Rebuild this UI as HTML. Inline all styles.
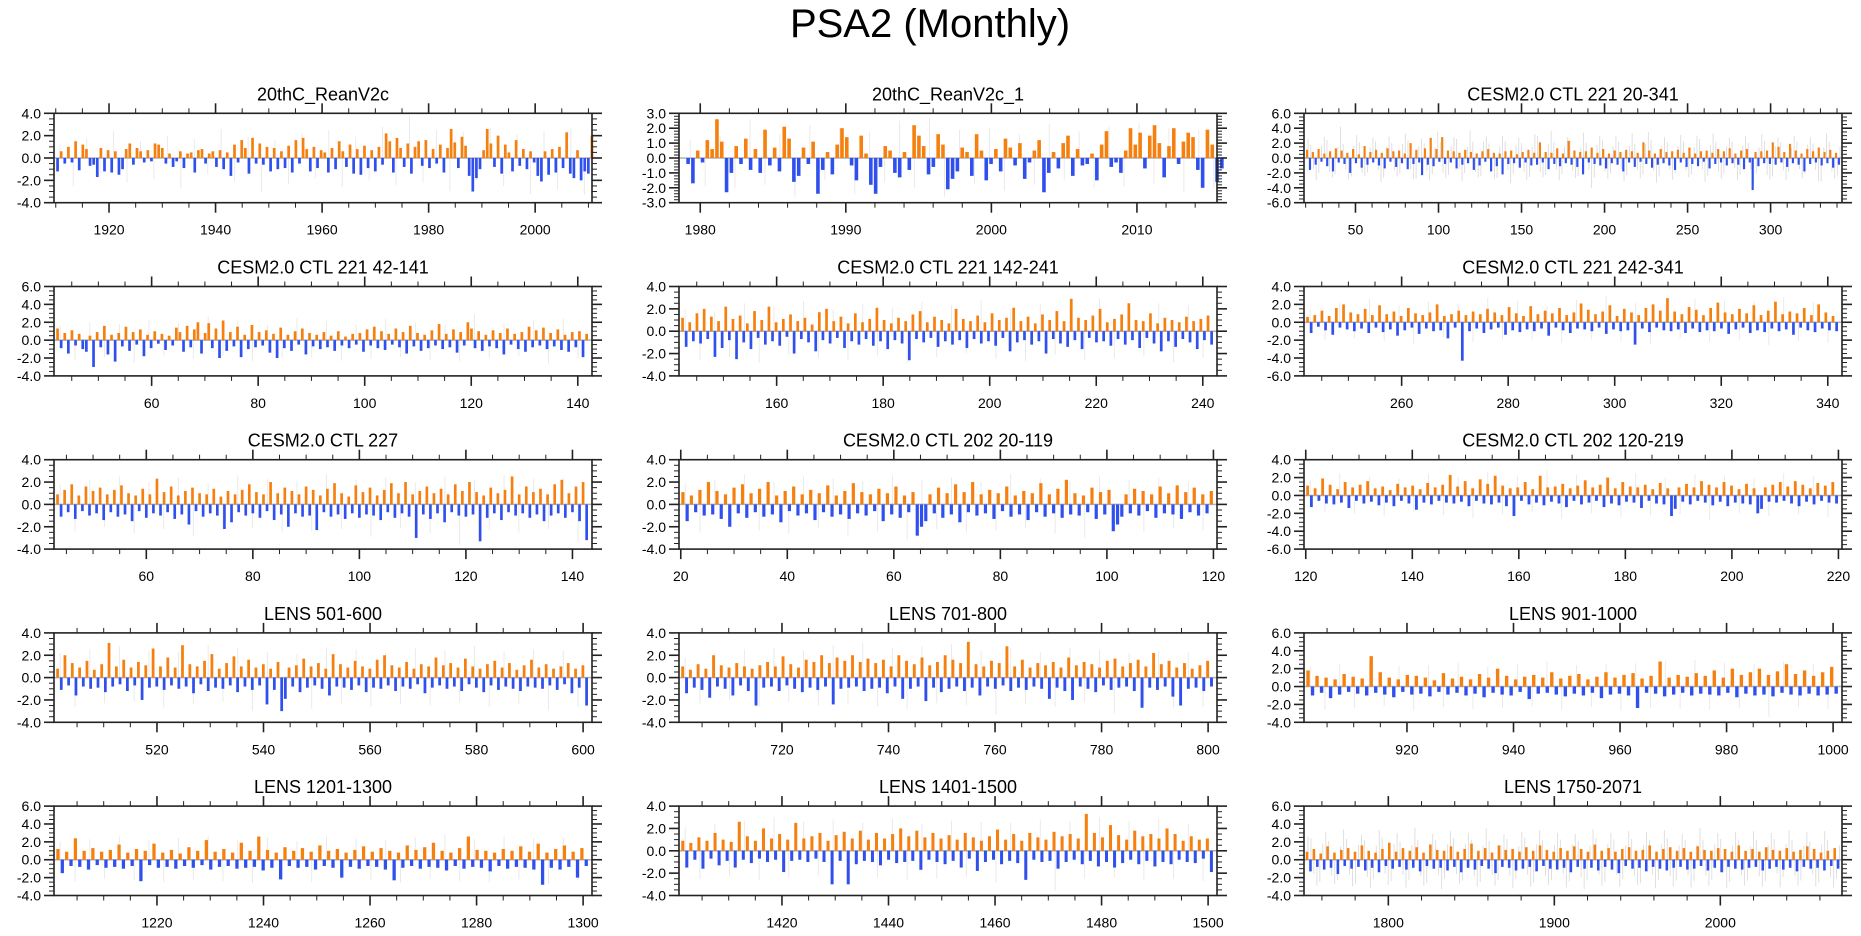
<!DOCTYPE html>
<html><head><meta charset="utf-8"><title>PSA2 (Monthly)</title>
<style>
html,body{margin:0;padding:0;background:#fff;}
svg{display:block;font-family:"Liberation Sans",Arial,sans-serif;}
</style></head>
<body>
<svg id="chart" width="1861" height="936" viewBox="0 0 1861 936" xmlns="http://www.w3.org/2000/svg">
<rect width="1861" height="936" fill="#fff"/>
<text x="930" y="37" font-size="40" text-anchor="middle" fill="#000">PSA2 (Monthly)</text>
</svg>
<script>
const titles = ["20thC_ReanV2c","20thC_ReanV2c_1","CESM2.0 CTL 221 20-341","CESM2.0 CTL 221 42-141","CESM2.0 CTL 221 142-241","CESM2.0 CTL 221 242-341","CESM2.0 CTL 227","CESM2.0 CTL 202 20-119","CESM2.0 CTL 202 120-219","LENS 501-600","LENS 701-800","LENS 901-1000","LENS 1201-1300","LENS 1401-1500","LENS 1750-2071"];
const xStart = [1910,1979,20,42,142,242,43,20,120,501,701,901,1201,1401,1750];
const xEnd   = [2010,2015,341,141,241,341,142,119,219,600,800,1000,1300,1500,2071];
const xDomMin = [1909.67,1978.54,19.0,41.67,141.67,241.67,42.67,19.67,119.67,500.67,700.67,900.67,1200.67,1400.67,1749.2];
const xDomMax = [2010.67,2015.5,343.0,142.67,242.67,342.67,143.67,120.67,220.67,601.67,801.67,1001.67,1301.67,1501.67,2073.3];
const xMajor = [[1920,1940,1960,1980,2000],[1980,1990,2000,2010],[50,100,150,200,250,300],[60,80,100,120,140],[160,180,200,220,240],[260,280,300,320,340],[60,80,100,120,140],[20,40,60,80,100,120],[120,140,160,180,200,220],[520,540,560,580,600],[720,740,760,780,800],[920,940,960,980,1000],[1220,1240,1260,1280,1300],[1420,1440,1460,1480,1500],[1800,1900,2000]];
const xMinorStep = [5,2,10,5,5,5,5,5,5,5,5,5,5,5,20];
const yMin = [-4,-3,-6,-4,-4,-6,-4,-4,-6,-4,-4,-4,-4,-4,-4];
const yMax = [4,3,6,6,4,4,4,4,4,4,4,6,6,4,6];
const yMajorStep = [2,1,2,2,2,2,2,2,2,2,2,2,2,2,2];

const s0 = [-1.2,0.6,-0.5,1.0,-0.4,1.5,-1.1,1.2,0.8,-0.7,-0.6,-1.7,0.9,-1.2,0.7,-1.3,0.6,-1.5,-1.0,0.8,1.3,-0.6,0.9,0.6,-0.4,0.7,-0.3,1.3,1.2,0.9,-0.5,0.4,-0.8,-0.3,0.6,-0.9,0.4,0.5,-1.3,0.7,0.8,-0.5,0.4,0.6,-0.8,0.7,-1.0,0.5,-1.6,1.2,-0.4,1.6,0.9,-1.4,1.8,-0.5,1.3,-0.6,1.0,-1.2,0.9,-1.0,0.6,-0.9,1.1,-1.3,1.6,-0.5,1.8,0.8,-1.2,1.0,-0.9,0.7,0.5,-1.3,0.9,-1.0,1.5,0.6,-0.8,1.2,-1.4,0.8,-1.5,1.1,-0.9,0.7,-1.2,1.0,-0.6,2.2,1.5,-1.3,1.8,0.9,-0.8,1.3,-1.4,1.0,1.5,-0.7,1.6,-0.9,0.8,-0.5,1.2,-1.3,0.9,2.6,1.4,-0.9,1.9,1.1,-1.6,-3.0,-1.8,-1.0,0.7,2.6,1.3,-0.8,2.0,-1.4,1.2,0.5,-1.2,1.6,-0.7,0.8,-1.0,0.6,-0.4,-1.6,-2.1,0.6,-1.5,0.8,-1.3,1.0,-0.9,2.3,-1.4,-1.8,0.7,-2.0,-1.2,-1.4,2.0];
const s1 = [-0.4,-1.7,0.5,-0.3,1.2,0.6,2.6,1.1,-2.3,-1.0,0.8,-0.4,1.3,-0.8,0.6,-1.0,1.9,-0.5,0.7,-0.9,2.1,1.3,-1.6,-1.2,0.7,-0.4,1.1,-2.4,-0.8,0.4,-1.1,0.9,2.0,1.4,-0.5,-1.5,1.5,0.3,-1.8,-2.4,-0.6,0.8,0.5,-1.0,-1.3,0.4,-0.8,2.2,1.5,0.8,-1.1,-0.6,1.6,0.9,-2.1,-1.4,-0.9,0.7,0.4,-1.2,1.6,0.5,-1.5,-0.4,0.6,-0.9,1.3,0.7,-0.5,1.0,-1.4,-0.3,0.5,1.2,-2.3,-1.0,0.4,-0.7,1.0,1.5,-1.2,0.6,-0.5,-0.4,0.3,-1.5,0.9,1.8,-0.6,-0.3,-1.0,0.5,2.0,0.9,1.7,-0.7,1.5,2.2,1.0,-1.3,0.8,2.0,-0.4,1.1,1.7,1.4,-0.8,-2.0,1.9,0.9,-1.6,-0.7];
const s2 = [1.1,-1.6,0.8,-0.9,1.2,-0.5,0.6,-1.1,0.9,-1.8,1.3,-0.6,1.0,-0.8,0.7,-2.0,1.2,-0.7,0.5,-1.3,1.6,-0.9,0.8,-0.6,1.1,-1.0,0.7,-1.4,1.3,-0.5,0.9,-1.2,1.0,-0.7,0.6,-1.5,2.0,-0.8,1.1,-0.6,-2.3,1.3,-0.9,2.7,-1.1,1.2,-0.5,2.8,-0.8,1.0,-0.6,0.9,-1.4,0.7,-0.9,1.1,-0.7,0.8,-1.6,0.6,-1.0,0.9,-0.5,1.2,-1.8,0.7,-1.1,0.6,-2.2,0.9,-0.8,1.0,-0.7,0.5,-1.3,0.8,-0.6,1.1,-1.0,0.7,-0.9,2.1,-0.6,0.8,-1.5,0.7,-0.8,1.3,-1.1,0.6,-0.7,2.3,-0.9,1.0,-1.2,0.8,-2.2,0.9,-0.6,1.4,-0.8,0.7,-1.0,1.2,-1.4,0.6,-0.7,1.0,-0.9,0.8,-1.8,1.1,-0.6,0.9,-1.2,0.7,-0.5,2.1,-0.8,1.0,-1.3,0.6,-0.9,1.2,-0.7,0.8,-1.0,0.9,-1.6,1.1,-0.6,0.7,-1.2,1.4,-0.8,0.6,-1.1,0.9,-0.5,1.0,-1.4,0.7,-0.8,1.2,-0.6,0.9,-1.0,1.3,-0.7,0.6,-0.9,1.0,-1.5,1.2,-0.6,-4.3,0.8,-1.1,0.9,-0.7,1.0,-0.8,2.1,-0.9,1.5,-0.6,0.8,-1.2,1.9,-0.7,1.0,-0.9,0.6,-1.8,1.2,-0.8,0.9,-0.6,1.4,-1.0,0.8,-0.7,1.1,-1.3,0.7,-0.9];
const s3 = [1.3,-0.9,0.8,-1.5,1.1,-0.6,0.7,-1.0,-1.3,0.5,-3.0,0.9,-0.8,1.6,-1.6,0.6,-2.4,0.8,-0.7,1.5,-1.2,0.9,-0.5,1.2,-1.8,0.6,-0.9,1.0,-0.4,0.7,-1.1,0.5,-0.6,1.4,0.9,-1.3,1.6,-0.8,1.2,2.0,-1.5,0.8,1.9,-0.9,1.3,-2.0,2.2,-1.2,0.9,-0.7,1.5,-1.9,0.6,-1.0,1.7,-0.8,0.9,-0.6,1.1,-1.4,0.7,-2.0,1.4,-0.9,0.6,-1.2,1.0,-0.5,1.3,-1.6,0.8,-0.7,0.6,-1.0,0.9,-0.8,0.5,-1.2,1.0,-0.6,0.4,-0.9,0.7,-0.5,0.8,-1.3,1.2,-0.6,1.5,-0.9,1.0,-1.1,0.7,-0.5,1.3,-0.8,0.9,-1.5,1.6,-0.7,0.8,-1.2,0.6,-0.9,1.1,-0.6,1.8,-1.0,0.7,-0.8,1.2,-1.4,0.9,-0.6,2.0,1.3,-0.9,1.0,-1.2,0.6,-0.7,1.1,-0.9,0.8,-1.6,1.3,-0.5,0.7,-1.0,0.9,-1.3,1.5,-0.8,1.1,-0.6,1.4,-1.0,0.8,-0.7,1.2,-1.1,0.6,-1.3,0.9,-0.8,1.0,-1.9,0.7];
const s4 = [1.2,-1.4,0.8,-0.9,1.6,-1.1,2.0,-0.7,1.3,-2.3,0.9,-1.5,2.2,-0.8,1.1,-2.5,1.4,-1.0,0.7,-1.6,1.8,-0.6,1.0,-1.2,2.2,-0.9,0.8,-1.3,1.1,-0.5,1.5,-2.0,0.9,-0.7,1.2,-1.0,0.6,-1.8,1.7,-0.8,2.0,-1.1,0.9,-0.6,1.3,-1.5,0.7,-0.9,1.6,-1.2,0.8,-0.7,1.1,-1.3,2.1,-0.9,1.0,-1.6,0.7,-0.8,1.2,-1.1,0.9,-2.6,1.5,-0.7,1.8,-1.0,0.8,-0.6,1.3,-1.4,1.0,-0.9,0.7,-1.2,2.0,-0.8,1.1,-1.5,0.9,-0.7,1.4,-1.1,0.8,-0.9,1.6,-1.3,1.0,-0.6,1.2,-1.8,2.1,-1.0,0.9,-0.8,1.3,-1.2,0.7,-0.9,1.5,-2.0,1.0,-0.7,1.8,-1.1,0.9,-1.4,2.9,-0.8,1.2,-1.6,1.0,-0.6,1.4,-1.0,2.0,-0.9,0.8,-1.3,1.1,-0.7,1.5,-1.2,2.5,-0.8,1.0,-1.5,0.9,-0.6,1.6,-1.1,0.7,-1.8,1.2,-0.9,1.0,-1.4,0.8,-0.7,1.3,-1.0,0.9,-1.6,1.1,-0.8,1.4,-1.2];
const s5 = [0.6,-1.2,0.8,-0.5,1.3,-0.9,0.7,-1.4,1.6,-0.6,2.0,-0.8,1.1,-1.0,0.9,-0.7,1.5,-1.2,0.8,-0.6,1.9,-1.1,0.9,-0.8,1.2,-1.5,0.7,-0.9,1.6,-0.6,1.0,-1.3,0.8,-0.7,1.1,-1.0,2.0,-0.9,0.7,-1.8,0.9,-0.6,1.3,-4.3,0.8,-1.0,1.2,-0.7,0.9,-1.2,1.5,-0.8,1.1,-0.6,0.8,-1.4,1.7,-0.9,1.0,-1.1,0.7,-0.8,1.8,-1.0,0.9,-0.7,1.3,-1.5,1.0,-0.6,1.6,-0.9,0.8,-1.2,1.1,-0.7,2.1,-0.8,1.4,-1.0,0.9,-0.6,1.2,-1.3,1.9,-0.8,0.7,-1.0,1.5,-0.9,1.1,-2.5,0.8,-0.7,1.6,-1.1,2.0,-0.6,1.3,-0.9,2.7,-1.0,1.2,-0.8,0.9,-1.2,1.7,-0.7,1.4,-1.1,0.8,-0.9,1.6,-1.0,2.2,-0.7,1.1,-1.3,0.9,-0.8,1.5,-0.6,1.0,-1.2,1.9,-0.9,0.8,-1.1,1.3,-0.7,2.3,-1.0,0.9,-0.8,1.2,-1.4,1.0,-0.6,1.6,-0.9,0.8,-1.1,2.0,-0.7,1.1,-0.9,0.7,-1.0];
const s6 = [0.9,-1.1,1.3,-0.7,1.8,-1.3,0.8,-0.6,1.6,-1.0,1.2,-0.8,1.5,-1.4,0.9,-0.7,1.3,-1.1,1.7,-0.9,1.0,-1.5,0.8,-0.6,1.4,-1.2,0.9,-0.8,2.3,-1.0,1.1,-0.7,1.6,-1.3,0.8,-0.9,1.2,-1.8,1.5,-0.6,1.0,-1.1,0.9,-0.8,1.4,-1.0,0.7,-2.2,1.2,-1.6,0.9,-0.7,1.3,-1.0,1.8,-0.8,1.1,-1.2,0.9,-0.6,2.0,-1.4,1.0,-0.9,1.5,-2.0,1.2,-0.8,0.9,-1.1,1.6,-1.0,1.3,-2.3,0.8,-0.7,1.4,-1.1,1.9,-0.9,1.0,-1.3,0.7,-0.8,1.7,-1.2,1.1,-0.9,1.5,-1.0,0.8,-1.4,1.3,-0.7,1.9,-1.2,1.0,-0.8,2.0,-1.1,0.9,-3.0,1.2,-0.9,1.6,-1.3,1.0,-0.8,1.4,-1.6,0.9,-0.7,1.8,-1.0,1.2,-1.1,2.0,-0.9,1.1,-3.3,0.8,-1.2,1.5,-0.8,1.0,-1.4,1.3,-0.7,2.5,-1.0,0.9,-0.8,1.6,-1.2,1.1,-0.9,1.4,-1.5,0.9,-1.0,1.8,-0.8,2.2,-1.2,1.0,-0.7,1.6,-1.5,2.0,-3.2];
const s7 = [1.1,-1.5,0.8,-0.7,1.3,-1.0,2.0,-0.9,1.2,-1.3,0.9,-2.0,1.5,-0.8,1.8,-1.2,1.0,-0.7,1.4,-1.1,2.0,-0.9,0.8,-1.6,1.2,-0.6,1.6,-1.0,0.9,-0.8,1.3,-1.4,1.0,-0.7,1.7,-1.1,0.8,-0.9,1.2,-1.3,1.9,-0.8,1.1,-1.0,0.9,-0.6,1.4,-1.5,1.0,-0.9,1.6,-1.2,0.8,-0.7,1.1,-2.8,-2.0,-1.5,0.9,-0.8,1.5,-1.2,1.0,-0.9,1.8,-1.6,1.1,-0.7,2.0,-1.0,0.9,-0.8,1.3,-1.3,1.0,-0.6,1.6,-1.1,0.8,-0.9,1.2,-1.4,1.0,-0.7,1.9,-1.1,0.9,-0.8,1.4,-1.2,2.2,-0.9,1.0,-1.0,0.8,-0.7,1.5,-1.3,1.1,-0.9,1.3,-2.4,-1.8,-1.1,0.9,-0.8,1.4,-1.0,1.2,-0.6,0.9,-1.2,1.6,-0.8,1.0,-0.9,1.7,-1.3,1.1,-0.7,1.5,-1.0,0.9,-0.8,1.2];
const s8 = [1.1,-1.3,0.8,-0.6,1.9,-0.9,1.2,-1.0,0.7,-0.8,1.5,-1.4,0.9,-0.6,1.2,-0.9,1.6,-0.7,0.8,-1.1,1.0,-0.8,0.6,-1.2,1.3,-0.6,0.9,-0.9,1.1,-1.6,0.7,-0.8,1.4,-1.0,0.9,-0.6,1.2,-0.8,2.3,-0.9,1.0,-0.7,1.6,-1.2,0.8,-0.6,1.8,-0.9,1.3,-1.0,2.2,-0.8,1.1,-1.2,0.8,-2.3,0.9,-0.6,1.5,-1.0,0.7,-0.8,2.2,-1.1,0.9,-0.7,1.0,-0.9,1.3,-1.3,0.8,-0.6,1.1,-1.0,1.7,-0.8,0.9,-0.6,1.2,-1.3,2.0,-0.9,0.8,-1.1,1.5,-0.7,1.0,-0.8,0.9,-1.4,1.2,-0.6,0.7,-0.9,1.4,-1.0,0.8,-2.3,-1.5,0.9,-0.7,1.3,-1.0,0.9,-0.6,1.6,-0.8,1.2,-1.1,0.9,-0.7,1.5,-1.2,1.1,-0.8,0.7,-0.9,1.3,-1.0,0.8,-2.0,-1.5,0.9,-0.7,1.2,-0.8,1.5,-0.6,1.0,-0.9,1.6,-1.2,1.2,-0.7,0.8,-1.0,1.4,-0.6,1.1,-0.8,1.5,-0.9];
const s9 = [0.8,-1.1,2.0,-0.7,1.3,-1.6,0.9,-0.8,1.5,-1.0,0.7,-0.9,1.2,-1.3,3.1,-0.8,1.0,-0.6,1.6,-1.2,0.9,-0.7,1.4,-2.0,1.1,-0.9,2.6,-0.8,1.0,-1.1,1.8,-0.7,0.9,-1.0,2.9,-0.8,1.2,-1.4,1.0,-0.6,1.5,-1.2,2.1,-0.9,0.8,-1.0,1.3,-0.7,1.9,-1.3,1.0,-0.8,1.6,-1.1,0.9,-0.7,1.2,-2.4,0.8,-1.1,1.4,-3.0,-1.9,0.9,-0.8,1.1,-1.3,1.7,-0.9,1.0,-0.7,1.3,-1.0,0.8,-1.6,2.1,-0.8,1.2,-0.9,0.9,-1.1,1.5,-0.7,1.0,-1.3,0.8,-0.9,1.6,-1.0,2.0,-0.7,1.1,-1.2,0.9,-0.8,1.4,-1.0,0.8,-0.6,1.2,-1.4,1.0,-0.9,1.8,-0.7,1.1,-1.0,1.3,-0.8,0.9,-1.2,1.7,-0.6,1.0,-0.9,0.8,-1.3,1.2,-0.7,1.5,-1.1,0.9,-0.8,1.3,-1.0,0.7,-1.2,1.1,-0.8,1.6,-0.9,0.9,-1.0,1.2,-0.7,0.8,-1.1,1.0,-0.6,1.3,-1.4,0.8,-0.9,1.1,-2.5];
const s10 = [1.0,-1.4,0.7,-0.9,1.2,-1.1,0.8,-1.8,2.0,-0.8,1.1,-1.0,0.9,-1.6,1.3,-0.7,1.0,-1.2,0.8,-2.5,1.1,-0.9,1.4,-0.8,1.0,-1.2,1.9,-0.7,1.2,-1.0,0.9,-1.3,1.6,-0.9,1.4,-1.1,2.0,-0.8,1.3,-2.4,1.8,-1.0,1.5,-0.9,2.0,-0.8,1.4,-1.2,1.7,-1.0,1.3,-0.9,1.6,-1.4,1.0,-0.8,2.0,-1.9,1.5,-1.0,1.2,-0.8,1.8,-2.1,1.1,-0.9,1.4,-1.3,2.0,-1.0,1.6,-0.8,1.3,-1.2,3.2,-0.9,1.2,-1.6,1.0,-0.8,1.5,-1.0,1.3,-0.7,2.8,-1.2,1.0,-0.9,1.6,-1.1,0.9,-0.8,1.3,-1.0,1.1,-1.9,1.4,-0.9,0.9,-1.2,1.8,-2.0,1.1,-0.8,1.4,-1.0,1.2,-1.3,0.9,-0.7,1.5,-1.1,1.7,-0.9,1.0,-0.8,1.3,-1.2,1.6,-2.7,1.0,-0.9,2.2,-1.1,1.2,-0.8,1.5,-1.7,0.9,-2.5,1.3,-1.0,0.8,-0.9,1.1,-1.2,1.5,-0.8];
const s11 = [1.8,-1.0,1.2,-0.7,1.0,-1.3,0.8,-0.9,1.4,-0.6,1.1,-0.8,0.9,-1.0,3.4,-0.7,1.6,-0.9,1.0,-1.2,0.8,-0.6,1.3,-0.9,1.2,-0.8,1.0,-1.1,0.7,-0.6,1.5,-0.9,0.9,-0.7,1.1,-1.0,0.8,-0.8,1.4,-1.2,1.0,-0.7,2.0,-0.9,1.2,-1.0,0.8,-0.6,1.1,-1.4,1.3,-0.8,1.0,-0.7,1.6,-0.9,0.9,-1.1,1.2,-0.8,1.4,-1.0,0.8,-0.7,1.1,-1.3,1.6,-0.9,1.0,-0.8,1.3,-1.0,1.5,-2.4,0.9,-0.7,1.2,-0.8,2.8,-1.1,1.0,-0.9,1.3,-0.7,1.1,-1.0,1.5,-0.8,1.2,-0.9,1.8,-1.0,1.0,-0.7,2.0,-1.2,1.3,-0.8,1.6,-1.0,2.0,-0.9,1.3,-1.1,1.7,-0.7,2.5,-0.9,1.4,-1.0,1.8,-0.8,1.2,-1.0,1.6,-0.9,2.2,-0.8];
const s12 = [1.2,-1.5,0.9,-0.7,2.4,-0.8,1.0,-1.1,1.3,-0.6,0.9,-0.9,1.1,-0.8,1.7,-1.0,0.8,-0.7,1.2,-2.4,1.0,-0.6,1.8,-0.9,0.8,-0.8,1.1,-1.0,0.7,-0.7,1.4,-0.9,1.0,-0.6,2.2,-1.1,0.9,-0.8,1.2,-0.7,0.8,-1.0,1.9,-0.9,1.0,-0.8,2.6,-1.2,1.1,-0.9,0.8,-2.2,1.4,-0.7,1.0,-0.9,1.3,-0.8,0.9,-1.1,1.6,-0.7,1.0,-0.9,1.2,-2.0,0.8,-0.8,1.1,-1.0,1.5,-0.7,0.9,-0.8,1.3,-1.1,1.0,-2.3,0.8,-0.9,1.6,-0.7,1.1,-1.0,1.4,-0.8,1.9,-0.9,1.0,-1.2,0.8,-0.7,1.3,-1.0,2.6,-0.8,1.1,-0.9,1.0,-1.3,0.8,-0.7,1.2,-1.0,1.0,-0.8,1.5,-0.9,0.9,-1.1,1.8,-2.8,0.8,-0.9,1.2,-1.1,1.6,-0.8,0.9,-2.0,1.3,-0.7];
const s13 = [0.9,-1.5,0.7,-0.8,1.2,-1.6,0.9,-0.7,1.6,-1.3,1.0,-0.9,0.8,-1.5,2.6,-0.8,1.3,-1.1,0.9,-0.7,2.0,-1.0,1.1,-0.8,1.5,-1.9,1.0,-0.9,2.5,-0.8,1.1,-1.0,1.3,-0.7,1.6,-1.0,0.9,-3.0,1.4,-0.9,1.7,-3.0,1.1,-1.2,1.8,-0.9,1.0,-1.0,1.6,-1.3,1.1,-0.8,1.5,-1.1,2.0,-1.0,1.3,-0.9,1.8,-1.7,1.2,-0.8,1.6,-1.0,1.1,-1.2,1.4,-0.9,1.0,-1.5,1.6,-0.7,1.2,-1.8,0.9,-1.0,1.3,-0.8,1.9,-1.2,1.0,-0.9,1.5,-1.1,0.9,-2.6,1.6,-0.8,1.2,-1.0,1.0,-0.9,1.7,-1.6,1.3,-1.0,1.5,-0.8,1.1,-1.2,3.3,-0.9,1.6,-1.4,1.2,-1.0,2.3,-1.5,1.4,-1.1,1.0,-0.8,1.8,-1.2,1.3,-0.9,1.5,-1.4,1.1,-1.0,2.0,-1.2,1.5,-0.8,0.9,-1.0,1.3,-1.1,1.0,-0.7,1.1,-1.9];
const s14 = [0.9,-1.3,1.2,-0.8,0.7,-1.1,1.5,-0.9,0.8,-1.6,1.1,-0.7,1.3,-1.0,0.9,-0.8,1.6,-1.2,1.0,-0.9,0.8,-1.4,1.2,-0.7,1.9,-1.0,0.9,-0.8,1.3,-1.1,1.0,-0.9,1.4,-1.3,0.8,-0.7,1.7,-1.0,1.1,-0.9,1.0,-1.2,1.5,-0.8,0.9,-1.4,1.2,-0.9,1.8,-1.1,1.0,-0.7,1.3,-1.0,0.8,-1.5,1.6,-0.8,1.1,-0.9,1.2,-1.2,0.9,-1.0,1.4,-0.8,1.0,-1.3,1.6,-0.7,1.1,-1.0,0.9,-1.1,1.3,-0.9,1.0,-1.4,1.5,-0.8,1.2,-1.0,0.9,-0.9,1.7,-1.2,1.0,-0.8,1.3,-1.1,0.9,-1.5,1.2,-0.7,1.4,-1.0,1.0,-0.9,1.1,-1.3,1.6,-0.8,0.9,-1.0,1.2,-1.2,1.4,-0.9,1.0,-0.8,1.3,-1.1,0.9,-1.0,1.5,-0.7,1.1,-1.2,1.0,-0.9,1.3,-1.4,1.2,-0.8,0.9,-1.0,1.6,-1.1,1.0,-0.9,1.2,-0.8,0.9,-1.2,1.4,-1.0,1.1,-0.8,1.0,-1.1,1.3,-0.9,0.9,-1.3,1.1,-0.8,1.5,-1.0,1.2,-0.9,0.8,-1.2,1.0,-0.7,1.3,-1.0];
const series = [s0,s1,s2,s3,s4,s5,s6,s7,s8,s9,s10,s11,s12,s13,s14];

const g0 = [1.2,-2.5,1.8,-1.6,2.4,-2.2,1.5,-1.9,2.0,-2.7,1.7,-1.5,2.6,-2.1,1.9,-3.1,1.6,-2.3,2.2,-1.8,2.5,-2.6,1.9,-2.0,2.8,-2.4,3.8,-2.2,2.5,-2.9,2.3,-2.0,2.7,-2.5,2.1,-3.2,2.4,-2.8,2.6,-3.3];
const g1 = [1.2,-1.9,1.5,-2.0,2.6,-1.8,1.6,-2.6,2.2,-1.5,2.0,-2.4,1.8,-1.6,2.5,-2.0,2.7,-2.6,1.9,-1.7,2.0,-2.2,1.6,-1.8,2.3,-1.5,1.8,-2.0,2.1,-1.9,2.3,-1.7,2.0,-2.3,1.9,-2.0];
const g2 = [2.5,-3.0,2.8,-2.6,4.2,-2.9,3.1,-2.4,2.7,-3.2,2.9,-2.5,3.3,-2.8,2.6,-3.0,3.5,-2.7,2.8,-3.1,3.7,-2.6,2.9,-2.8,3.0,-3.4,2.7,-2.9,3.2,-2.6,3.6,-3.0,2.8,-2.7,3.4,-4.0,3.0,-2.8,2.9,-3.1,3.3,-2.7,3.5,-3.3,2.8,-2.9,3.1,-2.6,3.0,-3.2,3.3,-2.8,2.7,-3.0,2.9,-3.4,3.2,-2.9,2.8,-3.0,3.0,-2.7,2.8,-3.1,3.3,-2.8];
const g3 = [1.6,-2.2,2.0,-1.9,1.8,-2.5,2.3,-1.7,1.9,-2.1,2.6,-1.8,2.2,-2.4,1.7,-2.0,2.5,-1.9,2.1,-2.3,1.8,-2.1,2.4,-1.9,2.0,-2.2,1.7,-2.4,2.9,-2.0,1.9,-1.8,2.2,-2.6,2.4,-2.0];
const g4 = [2.0,-2.6,1.8,-2.3,2.5,-2.8,2.2,-2.1,2.7,-2.4,1.9,-2.6,2.4,-2.2,2.1,-2.9,2.6,-2.3,2.3,-2.0,2.8,-2.5,2.0,-2.7,2.4,-2.1,2.2,-2.6,2.9,-2.4,2.1,-2.2,2.5,-2.8,2.3,-2.4];
const g5 = [1.5,-2.0,2.2,-1.8,2.6,-2.1,1.9,-2.4,2.3,-1.7,2.0,-2.2,2.7,-1.9,2.4,-2.0,1.8,-2.3,2.5,-1.9,2.9,-2.1,2.2,-2.5,2.0,-1.8,2.6,-2.2,2.4,-2.0,2.3,-2.6,2.8,-2.1,2.2,-2.3];
const g6 = [1.8,-2.4,2.2,-2.0,2.5,-2.6,2.0,-2.2,2.4,-2.8,1.9,-2.3,2.6,-2.1,2.3,-2.5,2.1,-2.4,2.7,-2.2,2.2,-2.9,2.4,-2.1,2.0,-2.6,2.5,-3.6,2.2,-2.3,2.6,-2.5,2.3,-2.2,2.4,-3.4];
const g7 = [1.9,-2.5,2.2,-2.0,2.7,-2.3,2.0,-2.6,2.5,-2.1,2.3,-2.8,2.1,-2.4,2.6,-3.2,2.2,-2.2,2.4,-2.5,2.0,-2.3,2.7,-2.1,2.3,-2.6,2.1,-3.0,2.5,-2.2,2.2,-2.4,2.4,-2.1,2.0,-2.3];
const g8 = [1.8,-1.9,2.5,-2.0,2.1,-2.3,1.9,-1.8,2.4,-2.2,2.0,-2.5,2.6,-2.1,2.2,-1.9,2.8,-2.6,2.3,-2.0,2.1,-2.4,2.5,-2.2,2.0,-2.1,2.4,-2.8,2.2,-2.0,1.9,-2.3,2.5,-2.1,2.2,-2.4];
const g9 = [2.2,-2.6,2.5,-2.3,2.8,-2.1,2.4,-2.7,2.3,-2.4,2.9,-2.2,2.6,-3.0,2.3,-2.5,2.1,-2.8,2.7,-2.3,2.5,-2.6,2.2,-2.4,2.6,-2.5,2.4,-2.2,2.8,-2.6,2.3,-2.4,2.5,-2.9,2.4,-2.6];
const g10 = [1.8,-2.3,2.2,-2.0,2.5,-2.6,2.7,-2.2,2.4,-2.5,2.9,-2.4,3.1,-2.6,2.6,-2.8,2.8,-2.3,3.0,-2.5,2.4,-3.3,2.6,-2.4,2.3,-2.6,2.7,-2.2,2.5,-3.2,2.2,-2.5,2.4,-2.7,2.3,-2.6];
const g11 = [2.2,-2.6,2.5,-2.4,2.9,-2.2,2.3,-2.7,2.4,-2.3,2.7,-2.5,2.2,-2.4,2.6,-2.2,2.8,-2.6,2.4,-2.3,2.5,-2.7,2.6,-2.4,2.9,-2.5,3.0,-2.6,2.7,-2.4,2.5,-3.4,2.8,-2.3,2.6,-2.5];
const g12 = [2.0,-2.4,2.3,-2.1,2.6,-2.3,2.2,-2.5,2.4,-2.2,2.7,-2.4,2.2,-2.6,2.5,-2.3,2.1,-2.5,2.6,-2.2,2.4,-2.3,2.2,-2.6,2.5,-2.1,2.8,-2.4,2.3,-2.5,2.6,-2.2,2.4,-2.7,2.5,-2.3];
const g13 = [2.1,-2.5,2.4,-2.3,2.7,-2.6,3.0,-2.4,2.6,-2.2,2.8,-2.9,2.5,-2.4,2.9,-2.6,2.4,-2.5,2.7,-2.3,2.6,-2.8,2.5,-2.4,2.8,-3.6,2.6,-2.5,3.0,-2.4,2.7,-2.6,2.9,-2.5,2.4,-2.7];
const g14 = [2.6,-2.9,3.1,-2.7,3.4,-3.0,2.8,-3.2,3.3,-2.8,3.0,-3.1,3.6,-2.9,2.9,-3.3,3.2,-2.7,3.0,-3.0,3.5,-2.9,2.8,-3.2,3.1,-3.0,3.3,-2.8,3.0,-3.1,2.9,-3.3,3.4,-2.9,3.0,-3.0,3.2,-2.8,3.1,-3.2,3.3,-3.0,2.9,-3.1,3.5,-2.9,3.0,-3.2,3.1,-2.9,3.2,-3.0,3.0,-3.1,3.3,-2.9,3.1,-3.0,3.2,-3.1];
const grays = [g0,g1,g2,g3,g4,g5,g6,g7,g8,g9,g10,g11,g12,g13,g14];
const denseGray = [false,false,true,false,false,false,false,false,false,false,false,false,false,false,true];

const NS = "http://www.w3.org/2000/svg";
const svg = document.getElementById('chart');
const colLeft = [54,679,1304];
const rowTop = [113.3,286.5,459.7,632.9,806.1];
const PW = 538, PH = 89.4;
function mk(tag, attrs, parent){
  const e = document.createElementNS(NS, tag);
  for (const k in attrs) e.setAttribute(k, attrs[k]);
  (parent||svg).appendChild(e);
  return e;
}
function fmt(v){ return v.toFixed(1); }

for (let p = 0; p < 15; p++) {
  const L = colLeft[p%3], T = rowTop[Math.floor(p/3)], R = L+PW, B = T+PH;
  const g = mk('g', {});
  
  
  const xs = v => L + (v - xDomMin[p]) / (xDomMax[p] - xDomMin[p]) * PW;
  const ys = v => B - (v - yMin[p]) / (yMax[p] - yMin[p]) * PH;

  const tt = mk('text', {x: L+PW/2, y: T-13, 'font-size': 18, 'text-anchor': 'middle', fill: '#000'}, g);
  
  
  tt.textContent = titles[p];

  const span = xEnd[p] + 1 - xStart[p];
  const gr = grays[p];
  const gstep = span / gr.length;
  const gc = denseGray[p] ? '#dcdcdc' : '#e8e8e8';
  const reps = denseGray[p] ? 3 : 1;
  for (let r = 0; r < reps; r++) {
    for (let i = 0; i < gr.length; i++) {
      const x = xs(xStart[p] + (i + 0.3 + r*0.33) * gstep);
      const v = (r === 0) ? gr[i] : -gr[(i+r*7) % gr.length] * (r === 1 ? 0.75 : 0.55);
      const ln = mk('line', {x1: x, x2: x, y1: ys(0), y2: ys(v), stroke: gc, 'stroke-width': 0.9}, g);
      
      
    }
  }
  const zl = mk('line', {x1: L, x2: R, y1: ys(0), y2: ys(0), stroke: '#b0b0b0', 'stroke-width': 1.5}, g);
  
  
  const d = series[p];
  const step = span / d.length;
  const bw = Math.max(1, (xs(xStart[p]+step) - xs(xStart[p])) * 0.75);
  for (let i = 0; i < d.length; i++) {
    const v = d[i];
    const x = xs(xStart[p] + (i + 0.5) * step) - bw/2;
    const y0 = ys(0), y1 = ys(v);
    const b = mk('rect', {x: x, y: Math.min(y0,y1), width: bw, height: Math.abs(y1-y0), fill: v >= 0 ? '#f5800f' : '#3050ee'}, g);
    
    
  }
  const fr = mk('rect', {x: L, y: T, width: PW, height: PH, fill: 'none', stroke: '#222', 'stroke-width': 1.6}, g);
  
  

  const mstep = xMinorStep[p];
  for (let v = Math.ceil(xDomMin[p]/mstep)*mstep; v <= xDomMax[p]; v += mstep) {
    const x = xs(v);
    const major = xMajor[p].indexOf(v) >= 0;
    const len = major ? 10 : 5;
    const t1 = mk('line', {x1: x, x2: x, y1: B, y2: B+len, stroke: '#222', 'stroke-width': major?1.6:1}, g);
    
    
    const t2 = mk('line', {x1: x, x2: x, y1: T, y2: T-len, stroke: '#222', 'stroke-width': major?1.6:1}, g);
    
    
  }
  for (const v of xMajor[p]) {
    const lb = mk('text', {x: xs(v), y: B+32, 'font-size': 14, 'text-anchor': 'middle', fill: '#000'}, g);
    
    
    lb.textContent = String(v);
  }
  const ys0 = yMajorStep[p], ymin = yMajorStep[p] === 1 ? 0.2 : 0.5;
  const nMin = Math.round((yMax[p]-yMin[p])/ymin);
  for (let k = 0; k <= nMin; k++) {
    const v = yMin[p] + k*ymin;
    const y = ys(v);
    const major = Math.abs(v/ys0 - Math.round(v/ys0)) < 1e-6;
    const len = major ? 10 : 5;
    const a = mk('line', {x1: L-len, x2: L, y1: y, y2: y, stroke: '#222', 'stroke-width': major?1.6:1}, g);
    
    
    const c = mk('line', {x1: R, x2: R+len, y1: y, y2: y, stroke: '#222', 'stroke-width': major?1.6:1}, g);
    
    
    if (major) {
      const lb = mk('text', {x: L-13, y: y+5, 'font-size': 14, 'text-anchor': 'end', fill: '#000'}, g);
      
      
      lb.textContent = fmt(v);
    }
  }
}
</script>
</body></html>
